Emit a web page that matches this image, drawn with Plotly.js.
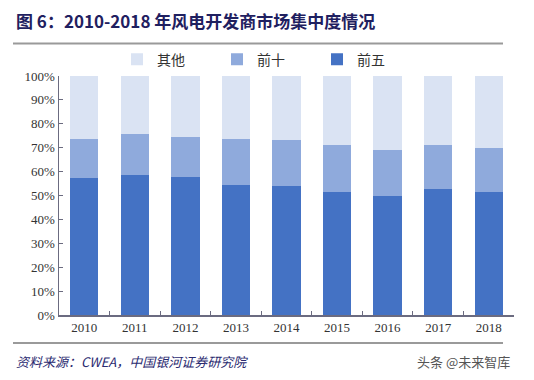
<!DOCTYPE html>
<html>
<head>
<meta charset="utf-8">
<script src="https://cdn.plot.ly/plotly-3.0.1.min.js"></script>
<style>html,body{margin:0;padding:0;background:#fff;}#chart{width:534px;height:380px;}</style>
</head>
<body>
<div id="chart"></div>
<script>
const years = ['2010','2011','2012','2013','2014','2015','2016','2017','2018'];
const top5 = [57.5, 58.5, 57.9, 54.2, 53.8, 51.5, 50.0, 52.9, 51.3];
const top6to10 = [16.3, 17.1, 16.7, 19.6, 19.6, 19.8, 19.2, 18.4, 18.6];
const others = [26.2, 24.4, 25.4, 26.2, 26.6, 28.7, 30.8, 28.7, 30.1];
const yTicks = [0,10,20,30,40,50,60,70,80,90,100];
const yTickText = yTicks.map(v => v + '%');

const L = 59, R = 514, T = 75.5, B = 315;
const px = x => (x - L) / (R - L);
const py = y => (B - y) / (B - T);

const traces = [
  {type:'bar', name:'前五', x:years, y:top5, marker:{color:'#4472C4'}, legend:'legend3'},
  {type:'bar', name:'前十', x:years, y:top6to10, marker:{color:'#8FAADC'}, legend:'legend2'},
  {type:'bar', name:'其他', x:years, y:others, marker:{color:'#DAE3F3'}, legend:'legend'}
];

const legFont = {family:'Noto Sans CJK SC', size:14, color:'#333'};
const mkLeg = (xpix) => ({orientation:'h', x:px(xpix), xanchor:'left', y:py(59), yanchor:'middle',
  font:legFont, itemwidth:30, bgcolor:'rgba(0,0,0,0)'});

const layout = {
  width:534, height:380,
  margin:{l:L, r:534-R, t:T, b:380-B},
  paper_bgcolor:'#fff', plot_bgcolor:'#fff',
  barmode:'stack', bargap:0.44,
  showlegend:true,
  legend:mkLeg(117),
  legend2:mkLeg(217),
  legend3:mkLeg(317),
  xaxis:{type:'category', showline:true, linecolor:'#6b6b80', linewidth:1.5, ticks:'inside', tickson:'boundaries',
    ticklen:4, tickcolor:'#6b6b80', showgrid:false, tickfont:{family:'Liberation Serif', size:13, color:'#333'}},
  yaxis:{range:[0,100], tickvals:yTicks, ticktext:yTickText, showline:true, linecolor:'#6b6b80', linewidth:1.5,
    ticks:'inside', ticklen:4, tickcolor:'#6b6b80', showgrid:false, zeroline:false,
    tickfont:{family:'Liberation Serif', size:13, color:'#333'}},
  shapes:[
    {type:'line', xref:'paper', yref:'paper', x0:px(13), x1:px(503), y0:py(43), y1:py(43), line:{color:'#9a9a9a', width:2}},
    {type:'line', xref:'paper', yref:'paper', x0:px(13), x1:px(503), y0:py(343), y1:py(343), line:{color:'#9a9a9a', width:2}}
  ],
  annotations:[
    {xref:'paper', yref:'paper', x:px(14), y:py(20), xanchor:'left', yanchor:'middle', showarrow:false,
     text:'<b>图 6：2010-2018 年风电开发商市场集中度情况</b>', font:{family:'Noto Sans CJK SC', size:17, color:'#1f2060'}},
    {xref:'paper', yref:'paper', x:px(14), y:py(362), xanchor:'left', yanchor:'middle', showarrow:false,
     text:'<i>资料来源：CWEA，中国银河证券研究院</i>', font:{family:'Noto Sans CJK SC', size:13, color:'#2a2a70'}},
    {xref:'paper', yref:'paper', x:px(512), y:py(362), xanchor:'right', yanchor:'middle', showarrow:false,
     text:'头条 @未来智库', font:{family:'Noto Sans CJK SC', size:13, color:'#555'}}
  ]
};

Plotly.newPlot('chart', traces, layout, {displayModeBar:false, staticPlot:true});
</script>
</body>
</html>
